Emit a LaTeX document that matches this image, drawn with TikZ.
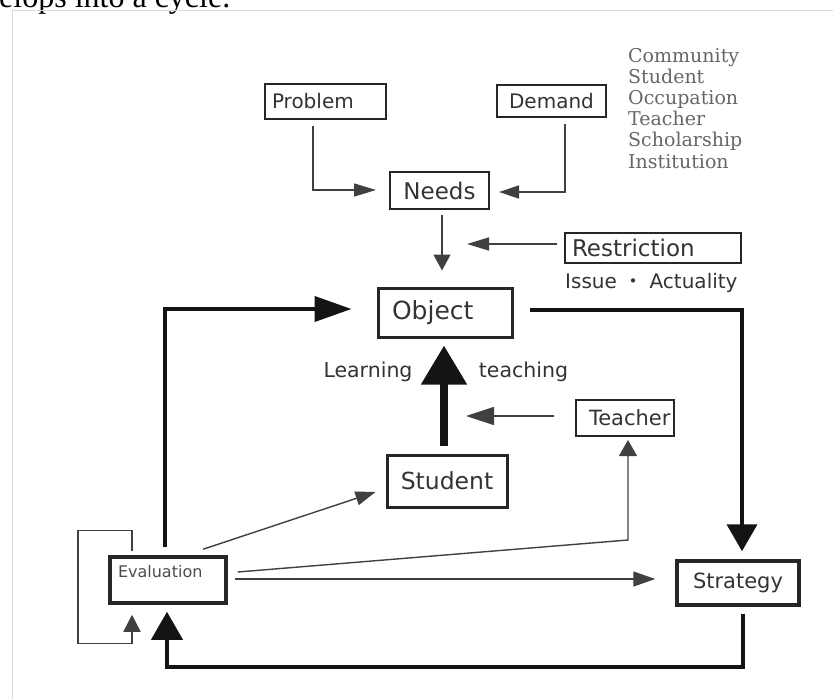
\documentclass[tikz,border=0pt]{standalone}
\usepackage{fontspec}
\setmainfont{DejaVu Sans}
\newfontfamily\listfont{DejaVu Serif}
\newfontfamily\capfont{Liberation Serif}
\newfontfamily\cjk{Noto Sans CJK JP}
\usetikzlibrary{arrows.meta,calc}
\newcommand{\setfs}[1]{\fontsize{#1pt}{#1pt}\selectfont}

\tikzset{
  box/.style={draw=black!85, line width=2pt, inner sep=0pt, text=black!80},
  thinarr/.style={draw=black!75, line width=1.4pt},
  thickarr/.style={draw=black!92, line width=4pt},
  arrhead/.style 2 args={-{Triangle[length=#1pt,width=#2pt]}},
}

\begin{document}
\begin{tikzpicture}[x=1pt, y=-1pt]
    % Page and frame
    \useasboundingbox (0,0) rectangle (833,699);
    \clip (0,0) rectangle (833,699);
    \node[anchor=base west, inner sep=0pt, font=\capfont\setfs{32}] (caption) at (-1,7.5) {elops into a cycle.};
    \draw[black!15, line width=1pt] (12,699) -- (12,10.7) -- (833,10.7);
    % Boxes
    \node[box, font=\setfs{20}, minimum width=121pt, minimum height=35pt, text width=107pt, inner xsep=7pt, align=left] (problem) at (325.5,101.5) {Problem};
    \node[box, font=\setfs{20}, minimum width=109pt, minimum height=32pt] (demand) at (551.5,101) {Demand};
    \node[box, font=\setfs{23}, minimum width=99pt, minimum height=37pt] (needs) at (439.5,190.5) {Needs};
    \node[box, font=\setfs{23}, minimum width=176pt, minimum height=30pt, text width=162pt, inner xsep=7pt, align=left] (restriction) at (653,248) {Restriction};
    \node[box, line width=3pt, font=\setfs{25}, minimum width=134pt, minimum height=49pt, text width=106pt, inner xsep=14pt, align=left] (object) at (445,312.5) {Object};
    \node[box, line width=3pt, font=\setfs{23.5}, minimum width=120pt, minimum height=52pt] (student) at (447,481) {Student};
    \node[box, font=\setfs{21}, minimum width=98pt, minimum height=36pt, text width=72pt, inner xsep=13pt, align=left] (teacher) at (625,418) {Teacher};
    \node[box, line width=3.5pt, font=\setfs{16}, text=black!70, text width=100pt, inner xsep=8pt, align=left, text height=20pt, text depth=26pt] (evaluation) at (168,580) {Evaluation};
    \node[box, line width=3.5pt, font=\setfs{21}, minimum width=122pt, minimum height=44pt] (strategy) at (738,583) {Strategy};
    % Labels
    \node[anchor=base, inner sep=0pt, font=\setfs{20.5}, text=black!80] (learning) at (368,377) {Learning};
    \node[anchor=base, inner sep=0pt, font=\setfs{20.5}, text=black!80] (teaching) at (523.5,377) {teaching};
    \node[anchor=base west, inner sep=0pt, font=\setfs{20}, text=black!80] (issue) at (565,288) {Issue {\cjk ・} Actuality};
    \foreach \w [count=\i from 0] in {Community,Student,Occupation,Teacher,Scholarship,Institution}
      \node[anchor=base west, inner sep=0pt, font=\listfont\setfs{19}, text=black!60] (kind\i) at (628,{62+21.2*\i}) {\w};
    % Free ends
    \coordinate (restrtip) at (467,244);
    \coordinate (teachtip) at (466,416);
    \coordinate (elbow) at (628,540);
    % Thin connectors
    \draw[thinarr, arrhead={22}{13}] ([xshift=-12.5pt,yshift=-6pt]problem.south) |- ([xshift=-13pt,yshift=0.5pt]needs.west);
    \draw[thinarr, arrhead={20}{13}] ([xshift=13.5pt,yshift=-6pt]demand.south) |- ([xshift=9pt,yshift=-1.5pt]needs.east);
    \draw[thinarr, arrhead={16}{17}] ([xshift=2.5pt,yshift=-5pt]needs.south) -- ([xshift=-3pt,yshift=16pt]object.north);
    \draw[thinarr, arrhead={22}{13}] ([xshift=-7pt,yshift=4pt]restriction.west) -- (restrtip);
    \draw[thinarr, arrhead={28}{18}] ([xshift=-21pt,yshift=2pt]teacher.west) -- (teachtip);
    \draw[thinarr, arrhead={20}{14}] ([xshift=35pt,yshift=6pt]evaluation.north) -- ([xshift=-10pt,yshift=-11pt]student.west);
    \draw[thinarr, arrhead={16}{18}] ([xshift=10pt,yshift=8pt]evaluation.east) -- (elbow) -- ([xshift=3pt,yshift=-3pt]teacher.south);
    \draw[thinarr, arrhead={22}{15}] ([xshift=7pt,yshift=1pt]evaluation.east) -- ([xshift=-20pt,yshift=4pt]strategy.west);
    \draw[thinarr, arrhead={17}{17}] ([xshift=-36pt,yshift=4pt]evaluation.north) -- ++(0,-21) -- ++(-54,0) -- ++(0,113) -- ++(54,0) -- ([xshift=-36pt,yshift=-10pt]evaluation.south);
    % Thick connectors
    \draw[thickarr, arrhead={37}{25}] ([xshift=-3pt,yshift=8pt]evaluation.north) |- ([xshift=-25pt,yshift=3.5pt]object.west);
    \draw[thickarr, arrhead={27}{30}] ([xshift=16pt,yshift=2.5pt]object.east) -| ([xshift=4pt,yshift=8pt]strategy.north);
    \draw[thickarr, arrhead={28}{31}] ([xshift=5pt,yshift=-7pt]strategy.south) -- ++(0,53) -| ([xshift=-1pt,yshift=-7pt]evaluation.south);
    \draw[thickarr, line width=8pt, arrhead={39}{44}] ([xshift=-3pt,yshift=8pt]student.north) -- ([xshift=-1pt,yshift=-7pt]object.south);
  \end{tikzpicture}
\end{document}
